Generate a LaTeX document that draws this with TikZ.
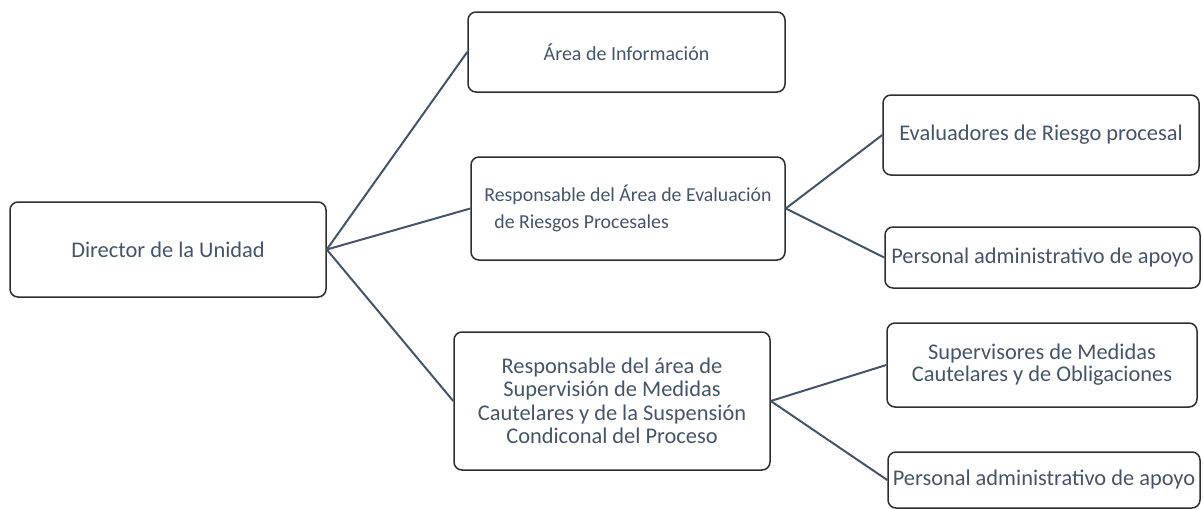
\documentclass[tikz,border=0pt]{standalone}
\usepackage{fontspec}
\setmainfont{Carlito}
\definecolor{txt}{HTML}{44546A}
\definecolor{edge}{HTML}{2E2E2E}
\begin{document}
\begin{tikzpicture}[x=1pt,y=-1pt,
  box/.style={draw=edge,line width=1.5pt,rounded corners=8pt,inner sep=0pt,
    text=txt,align=center,font=\fontsize{22.4}{24}\selectfont},
  link/.style={draw=txt,line width=2pt}]
\useasboundingbox (0,0) rectangle (1203,509);
\node[box,minimum width=316pt,minimum height=95pt] (dir) at (168,249.5) {Director de la Unidad};
\node[box,minimum width=317pt,minimum height=80pt,font=\fontsize{20}{24}\selectfont] (info) at (626.5,52) {Área de Información};
\node[box,minimum width=314pt,minimum height=103pt,align=left,font=\fontsize{19.8}{26.7}\selectfont] (eval) at (628,208.5) {Responsable del Área de Evaluación\\\hspace{10pt}de Riesgos Procesales};
\node[box,minimum width=316pt,minimum height=138pt,font=\fontsize{22.4}{23.5}\selectfont] (sup) at (612,401) {Responsable del área de\\Supervisión de Medidas\\Cautelares y de la Suspensión\\Condiconal del Proceso};
\node[box,minimum width=316pt,minimum height=80pt] (evr) at (1041,135) {Evaluadores de Riesgo procesal};
\node[box,minimum width=315pt,minimum height=61pt] (pa1) at (1042.5,257.5) {Personal administrativo de apoyo};
\node[box,minimum width=310pt,minimum height=84pt,font=\fontsize{22.4}{22}\selectfont] (svm) at (1042,365) {Supervisores de Medidas\\Cautelares y de Obligaciones};
\node[box,minimum width=312pt,minimum height=56pt] (pa2) at (1044,480) {Personal administrativo de apoyo};
\draw[link] (dir.east) -- (info.west);
\draw[link] (dir.east) -- (eval.west);
\draw[link] (dir.east) -- (sup.west);
\draw[link] (eval.east) -- (evr.west);
\draw[link] (eval.east) -- (pa1.west);
\draw[link] (sup.east) -- (svm.west);
\draw[link] (sup.east) -- (pa2.west);
\end{tikzpicture}
\end{document}
